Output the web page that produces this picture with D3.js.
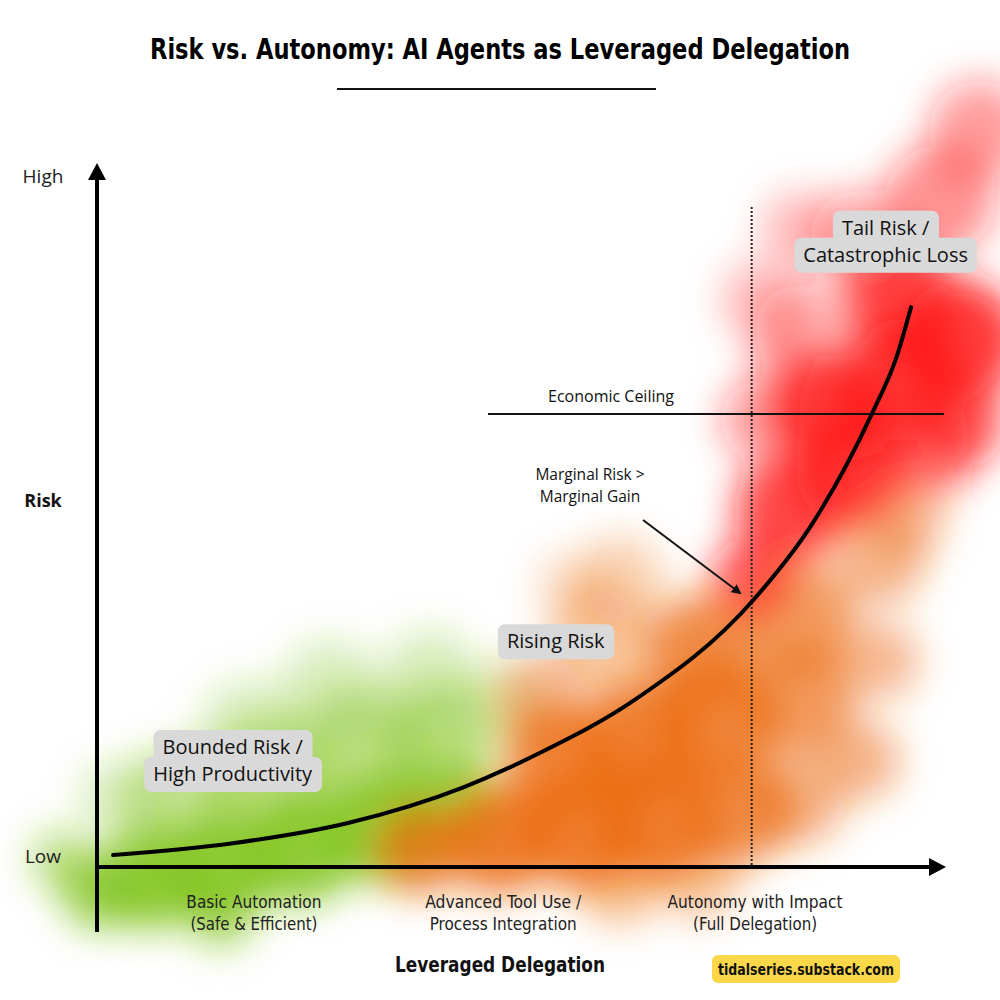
<!DOCTYPE html>
<html>
<head>
<meta charset="utf-8">
<script src="https://cdn.jsdelivr.net/npm/d3@7"></script>
<style>
  body { margin: 0; background: #fff; }
  .narrow { font-family: "Liberation Sans Narrow", "DejaVu Sans Condensed", "Roboto", sans-serif; }
  .plain { font-family: "Open Sans", "Noto Sans", sans-serif; }
</style>
</head>
<body>
<svg id="chart" width="1000" height="1000"></svg>
<script>
// curve: delegation level (0-100) vs risk (0-100)
const delegation = [1.9, 16.0, 29.6, 43.2, 52.2, 63.4, 77.4, 84.4, 91.4, 94.3, 96.0];
const risk       = [1.7, 3.4, 6.3, 11.4, 16.3, 23.9, 38.2, 49.2, 64.9, 73.0, 80.1];

const stages = [
  { x: 18.5, lines: ["Basic Automation", "(Safe & Efficient)"] },
  { x: 47.9, lines: ["Advanced Tool Use /", "Process Integration"] },
  { x: 77.6, lines: ["Autonomy with Impact", "(Full Delegation)"] }
];
const fullDelegationX = 77.2;
const ceilingRisk = 64.8;

const zoneLabels = [
  { x: 16.0, y: 15.3, lines: ["Bounded Risk /", "High Productivity"] },
  { x: 54.1, y: 32.3, lines: ["Rising Risk"] },
  { x: 93.0, y: 89.6, lines: ["Tail Risk /", "Catastrophic Loss"] }
];

// smoke blobs: [x, y, r, strength] in data units
const greenCloud = [
  [0.4, -3.3, 4.7, .9], [6.3, -1.9, 5.9, 1], [14.5, -0.4, 6.5, 1], [23.9, 2.4, 6.5, 1],
  [33.4, 5.3, 6.5, 1], [41.6, 8.2, 5.9, .9], [9.8, 9.6, 6.5, .55], [20.4, 12.4, 7.1, .6],
  [31.0, 16.7, 7.1, .6], [40.4, 18.2, 6.5, .6], [27.5, 25.3, 5.9, .35], [39.3, 26.8, 5.9, .35],
  [18.0, 19.6, 5.9, .35], [-4.4, 1.0, 3.5, .6], [14.5, -6.9, 4.1, .6], [2.7, 9.6, 4.7, .35],
  [47.5, 23.9, 4.7, .3]
];
const orangeCloud = [
  [38.1, 2.4, 5.3, .9], [47.5, 3.9, 6.5, 1], [57.0, 5.3, 7.1, 1], [66.4, 6.7, 7.1, 1],
  [75.8, 8.2, 6.5, .9], [54.6, 15.3, 6.5, .95], [64.0, 18.2, 7.1, 1], [73.5, 21.0, 7.1, .95],
  [82.9, 23.9, 6.5, .8], [90.0, 15.3, 4.7, .6], [82.9, 9.6, 5.3, .6], [61.7, -1.9, 5.3, .5],
  [71.1, -1.9, 4.7, .45], [71.1, 31.0, 6.5, .9], [82.9, 35.3, 6.5, .8], [92.3, 43.9, 5.3, .6],
  [95.9, 49.6, 4.1, .55], [59.3, 32.9, 5.9, .45], [61.7, 41.1, 5.3, .35], [52.2, 24.0, 5.3, .55],
  [92.3, 29.6, 4.7, .55], [55.8, 40.0, 4.1, .25]
];
const redCloud = [
  [77.0, 41.1, 4.7, .8], [81.7, 51.1, 6.5, .9], [88.8, 56.8, 6.5, .95], [86.4, 65.4, 6.5, 1],
  [94.7, 69.7, 7.1, 1], [101.8, 75.4, 7.1, 1], [94.7, 81.1, 6.5, .9], [101.8, 63.9, 5.3, .8],
  [78.2, 63.9, 4.7, .5], [82.9, 76.8, 5.3, .45], [90.0, 89.7, 5.9, .45], [99.4, 95.4, 6.5, .55],
  [104.1, 105.4, 5.9, .5], [98.2, 59.4, 5.3, .7], [80.5, 71.1, 4.1, .3],
  [78.2, 81.1, 4.7, .3], [82.9, 91.1, 4.7, .3]
];

const svg = d3.select("#chart");
const x = d3.scaleLinear().domain([0, 100]).range([97, 945]);
const y = d3.scaleLinear().domain([0, 100]).range([867, 168]);

const defs = svg.append("defs");
defs.append("filter").attr("id", "smoke")
  .attr("x", "-50%").attr("y", "-50%").attr("width", "200%").attr("height", "200%")
  .append("feGaussianBlur").attr("stdDeviation", 18);
defs.append("marker").attr("id", "tip")
  .attr("viewBox", "0 0 10 10").attr("refX", 8).attr("refY", 5)
  .attr("markerWidth", 5).attr("markerHeight", 5).attr("orient", "auto")
  .append("path").attr("d", "M0,0 L10,5 L0,10 z").attr("fill", "#111");

// smoke
const smoke = svg.append("g").attr("filter", "url(#smoke)");
[[greenCloud, "#7fc31a"], [orangeCloud, "#ec6a0e"], [redCloud, "#ff1414"]].forEach(([cloud, col]) => {
  smoke.append("g").selectAll("circle")
    .data(cloud)
    .enter().append("circle")
    .attr("cx", d => x(d[0]))
    .attr("cy", d => y(d[1]))
    .attr("r", d => x(d[2]) - x(0))
    .attr("fill", col)
    .attr("fill-opacity", d => d[3] * 0.85);
});

// title
svg.append("text").attr("class", "narrow")
  .attr("x", 500).attr("y", 59).attr("text-anchor", "middle")
  .attr("font-size", 29).attr("font-weight", "bold")
  .attr("textLength", 700).attr("lengthAdjust", "spacingAndGlyphs")
  .text("Risk vs. Autonomy: AI Agents as Leveraged Delegation");
svg.append("line").attr("x1", 337).attr("x2", 656).attr("y1", 89).attr("y2", 89)
  .attr("stroke", "#111").attr("stroke-width", 2);

// reference lines
svg.append("line")
  .attr("x1", x(fullDelegationX)).attr("x2", x(fullDelegationX))
  .attr("y1", 207).attr("y2", y(0))
  .attr("stroke", "#222").attr("stroke-width", 2).attr("stroke-dasharray", "2,2");
svg.append("line")
  .attr("x1", 488).attr("x2", 944)
  .attr("y1", y(ceilingRisk)).attr("y2", y(ceilingRisk))
  .attr("stroke", "#111").attr("stroke-width", 2);
svg.append("text").attr("class", "plain")
  .attr("x", 611).attr("y", y(ceilingRisk) - 12).attr("text-anchor", "middle")
  .attr("font-size", 16).attr("fill", "#111")
  .text("Economic Ceiling");

// annotation
const ann = svg.append("text").attr("class", "plain")
  .attr("text-anchor", "middle").attr("font-size", 15.5).attr("fill", "#111");
["Marginal Risk >", "Marginal Gain"].forEach((t, i) => {
  ann.append("tspan").attr("x", 590).attr("y", 480 + i * 22).text(t);
});
svg.append("line")
  .attr("x1", 643).attr("y1", 520).attr("x2", 740).attr("y2", 593)
  .attr("stroke", "#111").attr("stroke-width", 2).attr("marker-end", "url(#tip)");

// axes
const axisG = svg.append("g").attr("stroke", "#000").attr("fill", "#000");
axisG.append("line").attr("x1", 97).attr("x2", 97).attr("y1", 932).attr("y2", 178)
  .attr("stroke-width", 4);
axisG.append("path").attr("d", "M97,163 L106,180 L88,180 Z").attr("stroke", "none");
axisG.append("line").attr("x1", 95).attr("x2", 932).attr("y1", y(0)).attr("y2", y(0))
  .attr("stroke-width", 4);
axisG.append("path").attr("d", `M946,${y(0)} L929,${y(0) - 9} L929,${y(0) + 9} Z`).attr("stroke", "none");

// curve
const line = d3.line()
  .x(d => x(d[0]))
  .y(d => y(d[1]))
  .curve(d3.curveMonotoneX);
svg.append("path")
  .datum(delegation.map((d, i) => [d, risk[i]]))
  .attr("d", line)
  .attr("fill", "none")
  .attr("stroke", "#000")
  .attr("stroke-width", 4)
  .attr("stroke-linecap", "round");

// y labels
svg.append("text").attr("class", "plain").attr("x", 43).attr("y", 183)
  .attr("text-anchor", "middle").attr("font-size", 19).attr("fill", "#222").text("High");
svg.append("text").attr("class", "plain").attr("x", 43).attr("y", 863)
  .attr("text-anchor", "middle").attr("font-size", 19).attr("fill", "#222").text("Low");
svg.append("text").attr("class", "plain").attr("x", 43).attr("y", 507)
  .attr("text-anchor", "middle").attr("font-size", 18).attr("font-weight", "bold")
  .attr("fill", "#111").text("Risk");

// stage labels
const stageWidths = [[135, 127], [156, 147], [175, 124]];
stages.forEach((s, si) => {
  s.lines.forEach((l, i) => {
    svg.append("text").attr("class", "narrow")
      .attr("text-anchor", "middle").attr("font-size", 17).attr("fill", "#222")
      .attr("x", x(s.x)).attr("y", 908 + i * 22)
      .attr("textLength", stageWidths[si][i]).attr("lengthAdjust", "spacingAndGlyphs")
      .text(l);
  });
});

svg.append("text").attr("class", "narrow")
  .attr("x", 500).attr("y", 972).attr("text-anchor", "middle")
  .attr("font-size", 21).attr("font-weight", "bold").attr("fill", "#111")
  .attr("textLength", 210).attr("lengthAdjust", "spacingAndGlyphs")
  .text("Leveraged Delegation");

// zone labels with grey boxes
zoneLabels.forEach(z => {
  const g = svg.append("g").attr("class", "plain");
  const n = z.lines.length;
  const cy0 = y(z.y) - (n - 1) * 13;
  z.lines.forEach((l, i) => {
    const t = g.append("text")
      .attr("x", x(z.x)).attr("y", cy0 + i * 27 + 7)
      .attr("text-anchor", "middle").attr("font-size", 20).attr("fill", "#111")
      .text(l);
    const bb = t.node().getBBox();
    g.insert("rect", "text")
      .attr("x", bb.x - 9).attr("y", cy0 + i * 27 - 17)
      .attr("width", bb.width + 18).attr("height", 35)
      .attr("rx", 7).attr("fill", "#d9d9d9");
  });
});

// watermark
const wm = svg.append("g");
wm.append("rect")
  .attr("x", 712).attr("y", 955).attr("width", 188).attr("height", 28)
  .attr("rx", 6).attr("fill", "#fbd84a");
wm.append("text").attr("class", "narrow")
  .attr("x", 806).attr("y", 975).attr("text-anchor", "middle")
  .attr("font-size", 16).attr("font-weight", "bold").attr("fill", "#111")
  .attr("textLength", 176).attr("lengthAdjust", "spacingAndGlyphs")
  .text("tidalseries.substack.com");
</script>
</body>
</html>
